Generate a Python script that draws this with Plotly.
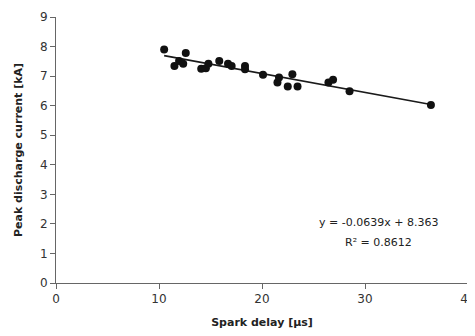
import plotly.graph_objects as go

# Data
spark_delay_us = [10.5, 11.5, 11.95, 12.35, 12.6, 14.1, 14.55, 14.8, 15.85, 16.7, 17.05,
                  18.35, 18.35, 20.1, 21.5, 21.65, 22.5, 22.95, 23.45, 26.45, 26.9, 28.5, 36.4]
peak_current_kA = [7.90, 7.34, 7.51, 7.42, 7.78, 7.25, 7.27, 7.42, 7.51, 7.42, 7.34,
                   7.34, 7.23, 7.05, 6.78, 6.95, 6.65, 7.06, 6.65, 6.78, 6.88, 6.49, 6.02]
trend_slope = -0.0639
trend_intercept = 8.363
r_squared = 0.8612

x_ticks = [0, 10, 20, 30, 40]
y_ticks = list(range(0, 10))

font_family = "DejaVu Sans, Verdana, sans-serif"

fig = go.Figure()

# trendline
tx = [min(spark_delay_us), max(spark_delay_us)]
ty = [trend_slope * v + trend_intercept for v in tx]
fig.add_trace(go.Scatter(x=tx, y=ty, mode="lines",
                         line=dict(color="#1a1a1a", width=1.6),
                         showlegend=False, hoverinfo="skip"))

fig.add_trace(go.Scatter(x=spark_delay_us, y=peak_current_kA, mode="markers",
                         marker=dict(color="#111111", size=8),
                         showlegend=False))

axis_common = dict(showline=True, linecolor="#666666", linewidth=1,
                   ticks="outside", ticklen=5, tickcolor="#666666",
                   showgrid=False, zeroline=False,
                   tickfont=dict(family=font_family, size=12, color="#333333"))

fig.update_xaxes(range=[0, 40], tickvals=x_ticks, ticktext=[str(v) for v in x_ticks],
                 title=dict(text="<b>Spark delay [µs]</b>", standoff=12,
                            font=dict(family=font_family, size=11, color="#222222")),
                 **axis_common)
fig.update_yaxes(range=[0, 9], tickvals=y_ticks, ticktext=[str(v) for v in y_ticks],
                 title=dict(text="<b>Peak discharge current [kA]</b>", standoff=15,
                            font=dict(family=font_family, size=11, color="#222222")),
                 **axis_common)

eq_text = f"y = {trend_slope}x + {trend_intercept}"
r2_text = f"R² = {r_squared}"
fig.add_annotation(x=31.3, y=2.06, xref="x", yref="y", text=eq_text, showarrow=False,
                   font=dict(family=font_family, size=11, color="#222222"))
fig.add_annotation(x=31.3, y=1.38, xref="x", yref="y", text=r2_text, showarrow=False,
                   font=dict(family=font_family, size=11, color="#222222"))

fig.update_layout(width=475, height=336,
                  margin=dict(l=48, r=15, t=9, b=61, autoexpand=False),
                  plot_bgcolor="white", paper_bgcolor="white")

fig.write_html("out.html")
